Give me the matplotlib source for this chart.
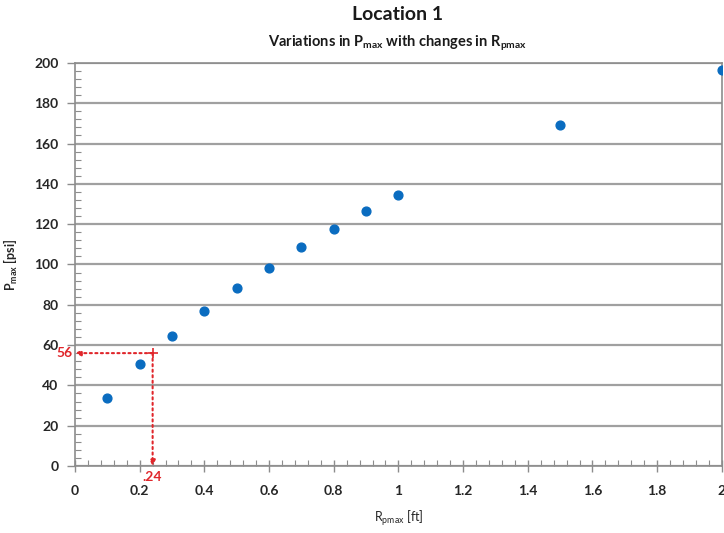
import matplotlib.pyplot as plt
from matplotlib.ticker import MultipleLocator

plt.rcParams['font.family'] = ['Lato', 'DejaVu Sans']
plt.rcParams['mathtext.default'] = 'regular'

# R_pmax [ft] vs P_max [psi]
r_pmax = [0.1, 0.2, 0.3, 0.4, 0.5, 0.6, 0.7, 0.8, 0.9, 1.0, 1.5, 2.0]
p_max = [33.7, 50.6, 64.5, 76.9, 88.3, 98.3, 108.7, 117.6, 126.5, 134.5, 169.3, 196.3]
x_ticks = [0, 0.2, 0.4, 0.6, 0.8, 1.0, 1.2, 1.4, 1.6, 1.8, 2.0]
x_tick_labels = ['0', '0.2', '0.4', '0.6', '0.8', '1', '1.2', '1.4', '1.6', '1.8', '2']

# read-off point
r_read = 0.24
p_read = 56

red = '#e0262b'
grey = '#8c8c8c'

fig = plt.figure(figsize=(7.24, 5.33), dpi=100)
ax = fig.add_axes([0.1036, 0.1257, 0.8934, 0.7563])

ax.scatter(r_pmax, p_max, s=40, color='#0a6cc0', zorder=3, clip_on=True)

ax.set_xticks(x_ticks)
ax.set_xticklabels(x_tick_labels)
ax.set_xlim(0, 2)
ax.set_ylim(0, 200)
ax.xaxis.set_minor_locator(MultipleLocator(0.04))
ax.yaxis.set_major_locator(MultipleLocator(20))
ax.yaxis.set_minor_locator(MultipleLocator(4))

ax.yaxis.grid(True, color='#a0a0a0', linewidth=1.6)
ax.set_axisbelow(True)
for s in ax.spines.values():
    s.set_color(grey)
    s.set_linewidth(1.2)
ax.tick_params(which='major', length=6, width=1.0, color=grey,
               labelsize=10, pad=6)
ax.tick_params(which='minor', length=4, width=0.8, color=grey, direction='in')
ax.tick_params(axis='y', which='major', direction='out')
ax.tick_params(axis='x', which='major', direction='inout', length=9, pad=9)
for lab in ax.get_xticklabels() + ax.get_yticklabels():
    lab.set_fontweight('bold')
    lab.set_color('#262626')

# dotted read-off arrows
arrow = dict(arrowstyle='-|>', color=red, linestyle=':', linewidth=1.5,
             mutation_scale=8, shrinkA=0, shrinkB=0)
ax.annotate('', xy=(0, p_read), xytext=(r_read, p_read), arrowprops=arrow,
            annotation_clip=False)
ax.annotate('', xy=(r_read, 0), xytext=(r_read, p_read), arrowprops=arrow,
            annotation_clip=False)
ax.plot([r_read], [p_read], marker='+', color=red, markersize=7, mew=1.2)
ax.text(-0.008, p_read, str(p_read), color=red, fontsize=10, fontweight='bold',
        ha='right', va='center')
ax.text(r_read, -2.5, '.24', color=red, fontsize=10, fontweight='bold',
        ha='center', va='top')

ax.set_xlabel('R$_{pmax}$ [ft]', fontsize=9, color='#262626')
ax.xaxis.set_label_coords(0.5, -0.105)
ax.set_ylabel('P$_{max}$ [psi]', fontsize=9, fontweight='bold', color='#262626')
ax.yaxis.set_label_coords(-0.085, 0.5)

fig.text(0.549, 0.972, 'Location 1', ha='center', va='center', fontsize=14,
         fontweight='bold', color='#1a1a1a')
fig.text(0.549, 0.918, 'Variations in P$_{max}$ with changes in R$_{pmax}$',
         ha='center', va='center', fontsize=10.5, fontweight='bold', color='#1a1a1a')

fig.savefig('out.png', dpi=100)
